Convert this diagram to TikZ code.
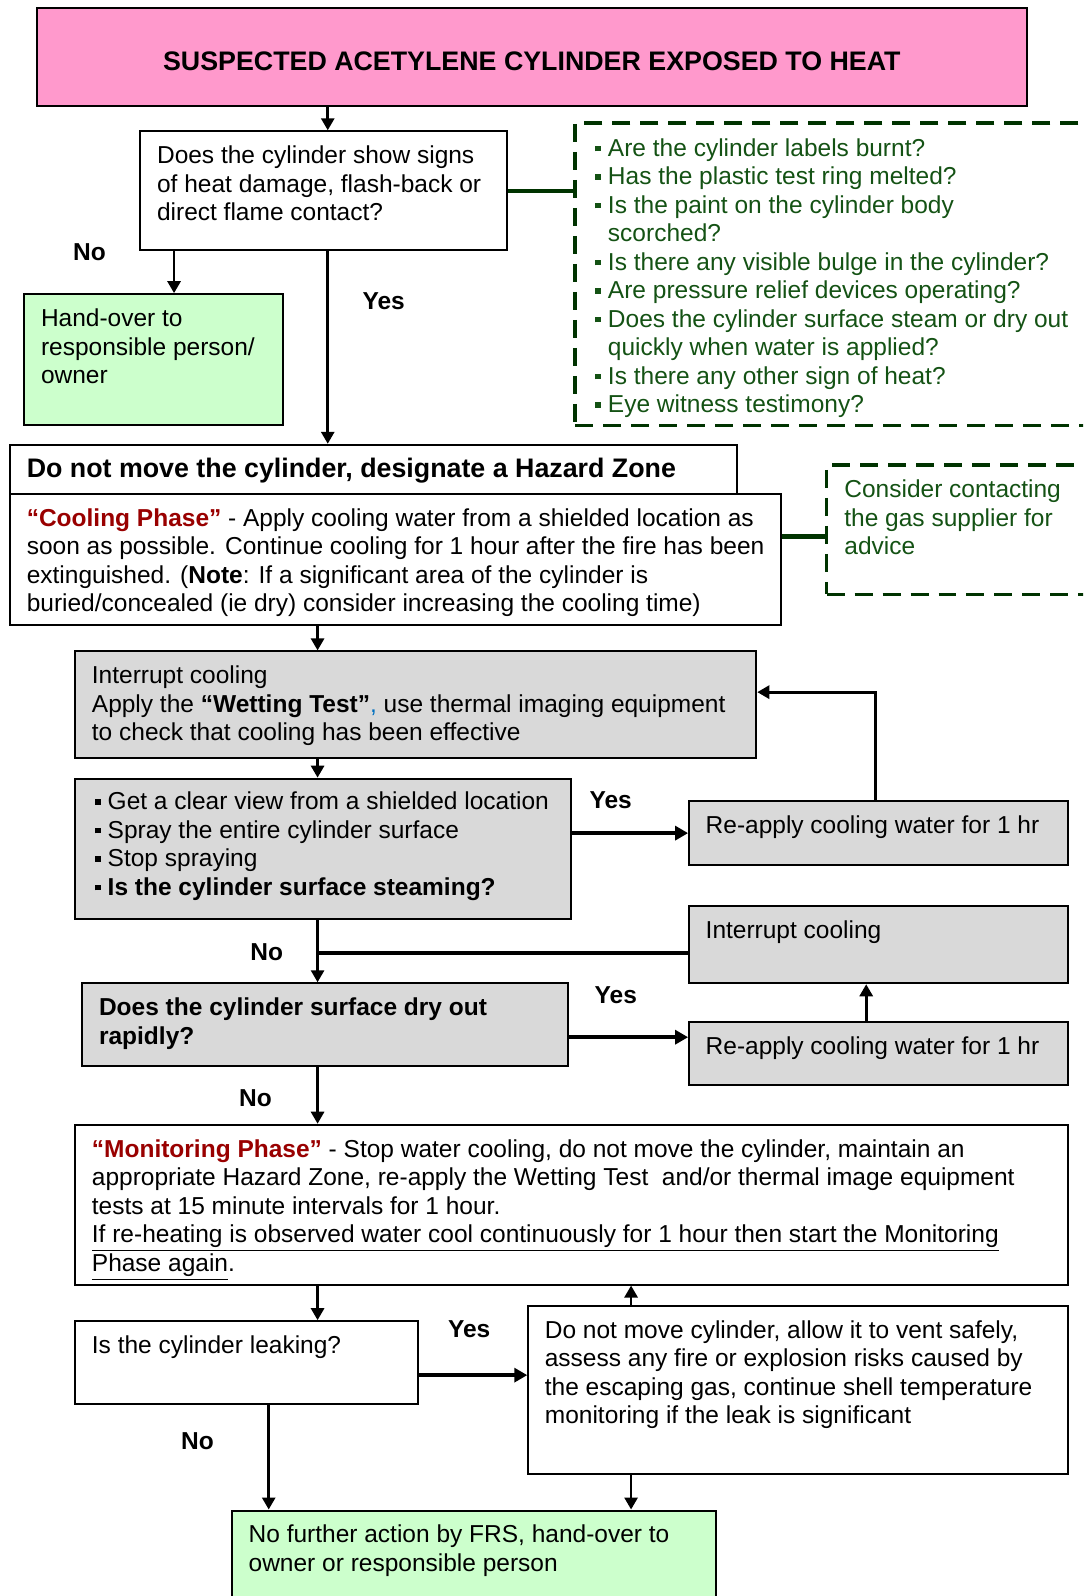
\documentclass[tikz,border=0pt]{standalone}
\usepackage{fontspec}
\setmainfont{Liberation Sans}
\usetikzlibrary{arrows.meta,fit}

\definecolor{hazpink}{HTML}{FF99CC}
\definecolor{okgreen}{HTML}{CCFFCC}
\definecolor{testgray}{HTML}{D9D9D9}
\definecolor{dashgreen}{HTML}{003300}
\definecolor{notegreen}{HTML}{145214}
\definecolor{phasered}{HTML}{990000}
\definecolor{commablue}{HTML}{0070C0}

\newcommand\sqbullet{\rule[2.5pt]{2.9pt}{2.9pt}\hspace{3.6pt}}
\newcommand\sqindent{\hspace{6.5pt}}

\tikzset{
  box/.style={draw, line width=1pt, inner sep=0pt},
  dashbox/.style={draw=dashgreen, line width=1.7pt, dash pattern=on 9pt off 5pt, inner sep=0pt},
  txt/.style={anchor=north west, align=left, inner xsep=8.6pt, inner ysep=7.6pt},
  bigbold/.style={font=\fontsize{13.4}{15.5}\selectfont\bfseries},
  lbl/.style={font=\fontsize{12.25}{14.25}\selectfont\bfseries},
  arr/.style={line width=1.4pt, -{Triangle[length=6pt,width=6.5pt]}},
  fatarr/.style={line width=2.2pt, -{Triangle[length=6.5pt,width=7pt]}},
  link/.style={draw=dashgreen, line width=2.2pt}
}

\begin{document}
\begin{tikzpicture}[x=0.509pt, y=-0.509pt, font=\fontsize{12.25}{14.25}\selectfont]
\useasboundingbox (0,0) rectangle (1064,1568);
\clip (0,0) rectangle (1064,1568);

% columns and rows for the connectors
\coordinate (colno) at (171,0);
\coordinate (coltop) at (322,0);
\coordinate (colmain) at (312,0);
\coordinate (colleak) at (264,0);
\coordinate (colvent) at (620,0);
\coordinate (colloop) at (860,0);
\coordinate (colback) at (851,0);
\coordinate (rowadvice) at (0,527);
\coordinate (rowloop) at (0,680);
\coordinate (rowjoin) at (0,936);
\coordinate (rowdry) at (0,1019);
\coordinate (rowleak) at (0,1351);

% boxes
\node[box, fill=hazpink, fit={(36,8) (1009,104)}] (title) {};
\node[bigbold] (titletext) at ([yshift=-2pt]title.center) {SUSPECTED ACETYLENE CYLINDER EXPOSED TO HEAT};

\node[box, fill=white, fit={(138,129) (498,246)}] (signs) {};
\node[txt] (signstext) at (signs.north west) {Does the cylinder show signs\\of heat damage, flash-back or\\direct flame contact?};

\node[dashbox, fit={(565,121) (1090,418)}] (checks) {};
\node[txt, text=notegreen, inner xsep=10.6pt, inner ysep=8.4pt] (checkstext) at (checks.north west) {%
\sqbullet Are the cylinder labels burnt?\\
\sqbullet Has the plastic test ring melted?\\
\sqbullet Is the paint on the cylinder body\\
\sqindent scorched?\\
\sqbullet Is there any visible bulge in the cylinder?\\
\sqbullet Are pressure relief devices operating?\\
\sqbullet Does the cylinder surface steam or dry out\\
\sqindent quickly when water is applied?\\
\sqbullet Is there any other sign of heat?\\
\sqbullet Eye witness testimony?};

\node[box, fill=okgreen, fit={(24,289) (278,418)}] (handover) {};
\node[txt] (handovertext) at (handover.north west) {Hand-over to\\responsible person/\\owner};

\node[box, fill=white, fit={(10,437) (724,485)}] (hazard) {};
\node[bigbold, anchor=west, inner xsep=8.6pt] (hazardtext) at ([yshift=-0.6pt]hazard.west) {Do not move the cylinder, designate a Hazard Zone};

\node[box, fill=white, fit={(10,485) (767,614)}] (cooling) {};
\node[txt] (coolingtext) at (cooling.north west) {%
{\color{phasered}\bfseries “Cooling Phase”} - Apply cooling water from a shielded location as\\
soon as possible. Continue cooling for 1 hour after the fire has been\\
extinguished. (\textbf{Note}: If a significant area of the cylinder is\\
buried/concealed (ie dry) consider increasing the cooling time)};

\node[dashbox, fit={(812,457) (1090,584)}] (advice) {};
\node[txt, text=notegreen, inner xsep=9.6pt, inner ysep=8pt] (advicetext) at (advice.north west) {Consider contacting\\the gas supplier for\\advice};

\node[box, fill=testgray, fit={(74,640) (743,745)}] (wetting) {};
\node[txt] (wettingtext) at (wetting.north west) {Interrupt cooling\\
Apply the \textbf{“Wetting Test”}{\color{commablue},} use thermal imaging equipment\\
to check that cooling has been effective};

\node[box, fill=testgray, fit={(74,765) (561,903)}] (steam) {};
\node[txt, inner xsep=10pt, inner ysep=7pt] (steamtext) at (steam.north west) {%
\sqbullet Get a clear view from a shielded location\\
\sqbullet Spray the entire cylinder surface\\
\sqbullet Stop spraying\\
\sqbullet \textbf{Is the cylinder surface steaming?}};

\node[box, fill=testgray, fit={(677,787) (1049,850)}] (reapplyone) {};
\node[txt] (reapplyonetext) at (reapplyone.north west) {Re-apply cooling water for 1 hr};

\node[box, fill=testgray, fit={(677,890) (1049,966)}] (interrupt) {};
\node[txt] (interrupttext) at (interrupt.north west) {Interrupt cooling};

\node[box, fill=testgray, fit={(81,966) (558,1047)}] (dryout) {};
\node[txt, font=\fontsize{12.25}{14.25}\selectfont\bfseries] (dryouttext) at (dryout.north west) {Does the cylinder surface dry out\\rapidly?};

\node[box, fill=testgray, fit={(677,1004) (1049,1066)}] (reapplytwo) {};
\node[txt] (reapplytwotext) at (reapplytwo.north west) {Re-apply cooling water for 1 hr};

\node[box, fill=white, fit={(74,1105) (1049,1262)}] (monitor) {};
\node[txt] (monitortext) at (monitor.north west) {%
{\color{phasered}\bfseries “Monitoring Phase”} - Stop water cooling, do not move the cylinder, maintain an\\
appropriate Hazard Zone, re-apply the Wetting Test\ \ and/or thermal image equipment\\
tests at 15 minute intervals for 1 hour.\\
\underline{If re-heating is observed water cool continuously for 1 hour then start the Monitoring}\\
\underline{Phase again}.};

\node[box, fill=white, fit={(74,1298) (411,1379)}] (leaking) {};
\node[txt] (leakingtext) at (leaking.north west) {Is the cylinder leaking?};

\node[box, fill=white, fit={(519,1283) (1049,1448)}] (vent) {};
\node[txt] (venttext) at (vent.north west) {Do not move cylinder, allow it to vent safely,\\
assess any fire or explosion risks caused by\\
the escaping gas, continue shell temperature\\
monitoring if the leak is significant};

\node[box, fill=okgreen, fit={(228,1484) (703,1590)}] (nofurther) {};
\node[txt] (nofurthertext) at (nofurther.north west) {No further action by FRS, hand-over to\\owner or responsible person};

% answers
\node[lbl] (signsno) at (88,248) {No};
\node[lbl] (signsyes) at (377,296) {Yes};
\node[lbl] (steamyes) at (600,786) {Yes};
\node[lbl] (steamno) at (262,935) {No};
\node[lbl] (dryyes) at (605,978) {Yes};
\node[lbl] (dryno) at (251,1079) {No};
\node[lbl] (leakyes) at (461,1306) {Yes};
\node[lbl] (leakno) at (194,1416) {No};

% connectors
\draw[arr] (title.south -| coltop) -- (signs.north -| coltop);
\draw[link] (signs.east) -- (checks.west |- signs.east);
\draw[arr] (signs.south -| colno) -- (handover.north -| colno);
\draw[arr] (signs.south -| coltop) -- (hazard.north -| coltop);
\draw[link] (cooling.east |- rowadvice) -- (advice.west |- rowadvice);
\draw[arr] (cooling.south -| colmain) -- (wetting.north -| colmain);
\draw[arr] (wetting.south -| colmain) -- (steam.north -| colmain);
\draw[fatarr] (steam.east |- reapplyone.west) -- (reapplyone.west);
\draw[arr] (reapplyone.north -| colloop) |- (wetting.east |- rowloop);
\draw[arr] (steam.south -| colmain) -- (dryout.north -| colmain);
\draw[line width=2.2pt] (interrupt.west |- rowjoin) -- (colmain |- rowjoin);
\draw[fatarr] (dryout.east |- rowdry) -- (reapplytwo.west |- rowdry);
\draw[arr] (reapplytwo.north -| colback) -- (interrupt.south -| colback);
\draw[arr] (dryout.south -| colmain) -- (monitor.north -| colmain);
\draw[arr] (monitor.south -| colmain) -- (leaking.north -| colmain);
\draw[fatarr] (leaking.east |- rowleak) -- (vent.west |- rowleak);
\draw[arr] (vent.north -| colvent) -- (monitor.south -| colvent);
\draw[arr] (leaking.south -| colleak) -- (nofurther.north -| colleak);
\draw[arr] (vent.south -| colvent) -- (nofurther.north -| colvent);
\end{tikzpicture}
\end{document}
